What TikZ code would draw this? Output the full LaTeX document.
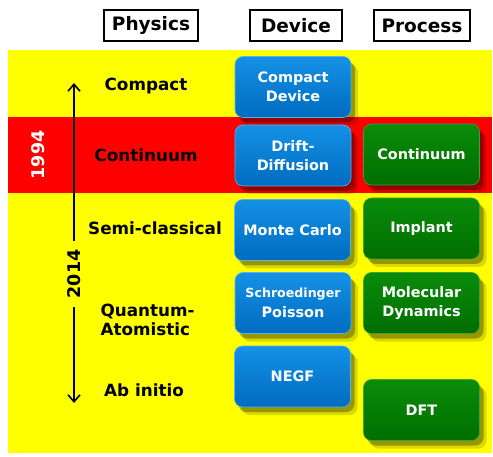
\documentclass[tikz,border=0pt]{standalone}
\usepackage{fontspec}
\setmainfont{DejaVu Sans}
\usetikzlibrary{shadows,arrows.meta}
\definecolor{bgyellow}{RGB}{255,255,0}
\definecolor{bgred}{RGB}{255,0,0}
\definecolor{bluetop}{RGB}{20,145,230}
\definecolor{bluebot}{RGB}{0,108,192}
\definecolor{greentop}{RGB}{10,140,10}
\definecolor{greenbot}{RGB}{0,110,0}
\tikzset{
  hdr/.style={draw=black, line width=1.3pt, fill=white, font=\bfseries\fontsize{18.5}{20}\selectfont, minimum height=31pt, inner xsep=4pt},
  card/.style={rounded corners=8pt, minimum width=116pt, minimum height=61pt, align=center, text=white,
     font=\bfseries\fontsize{14.4}{19.5}\selectfont,
     drop shadow={shadow xshift=7pt, shadow yshift=-8pt, opacity=0.15, fill=black},
     drop shadow={shadow xshift=4pt, shadow yshift=-5pt, opacity=0.3, fill=black}},
  devbox/.style={card, top color=bluetop, bottom color=bluebot, draw=bluetop!70!white, line width=0.6pt},
  procbox/.style={card, top color=greentop, bottom color=greenbot, draw=greentop!80!white, line width=0.6pt},
  phys/.style={font=\bfseries\fontsize{16.8}{19}\selectfont, align=left},
  timearrow/.style={line width=1.6pt, -{Straight Barb[length=7pt,width=12pt,line width=1.6pt]}},
}
\begin{document}
\begin{tikzpicture}[x=1pt,y=-1pt]
\useasboundingbox (0,0) rectangle (493,457);
% backgrounds
\fill[bgyellow] (8,50) rectangle (492,453);
\fill[bgred] (8,117) rectangle (492,193);
% headers
\node[hdr, minimum width=94pt] (hphys) at (151,25.5) {Physics};
\node[hdr, minimum width=92pt] (hdev) at (296,25.5) {Device};
\node[hdr, minimum width=96pt] (hproc) at (422,25.5) {Process};
% physics labels
\node[phys] (pcompact) at (146,86) {Compact};
\node[phys] (pcont) at (146,155) {Continuum};
\node[phys] (psemi) at (155,228) {Semi-classical};
\node[phys, anchor=west] (pquant) at (97,320) {Quantum-\\Atomistic};
\node[phys] (pabinit) at (144,390) {Ab initio};
% device boxes
\node[devbox] (dcompact) at (293,87) {Compact\\Device};
\node[devbox] (ddrift) at (293,155.5) {Drift-\\Diffusion};
\node[devbox] (dmc) at (292.5,230) {Monte Carlo};
\node[devbox, font=\bfseries\fontsize{12.6}{19.5}\selectfont] (dsp) at (293,303) {Schroedinger\\\fontsize{14.4}{19.5}\selectfont Poisson};
\node[devbox] (dnegf) at (292.5,376.5) {NEGF};
% process boxes
\node[procbox] (pcbox) at (421.5,154.5) {Continuum};
\node[procbox] (pimpl) at (421.5,228.5) {Implant};
\node[procbox] (pmd) at (421.5,303) {Molecular\\Dynamics};
\node[procbox] (pdft) at (421.5,410) {DFT};
% years and arrow
\node[rotate=90, text=white, font=\bfseries\fontsize{17.5}{19}\selectfont] (y1994) at (38,155) {1994};
\node[rotate=90, font=\bfseries\fontsize{17.5}{19}\selectfont, inner xsep=8pt] (y2014) at (74,274) {2014};
\coordinate (atop) at (74,83);
\coordinate (abot) at (74,403);
\draw[timearrow] (y2014.east) -- (atop);
\draw[timearrow] (y2014.west) -- (abot);
\end{tikzpicture}
\end{document}
